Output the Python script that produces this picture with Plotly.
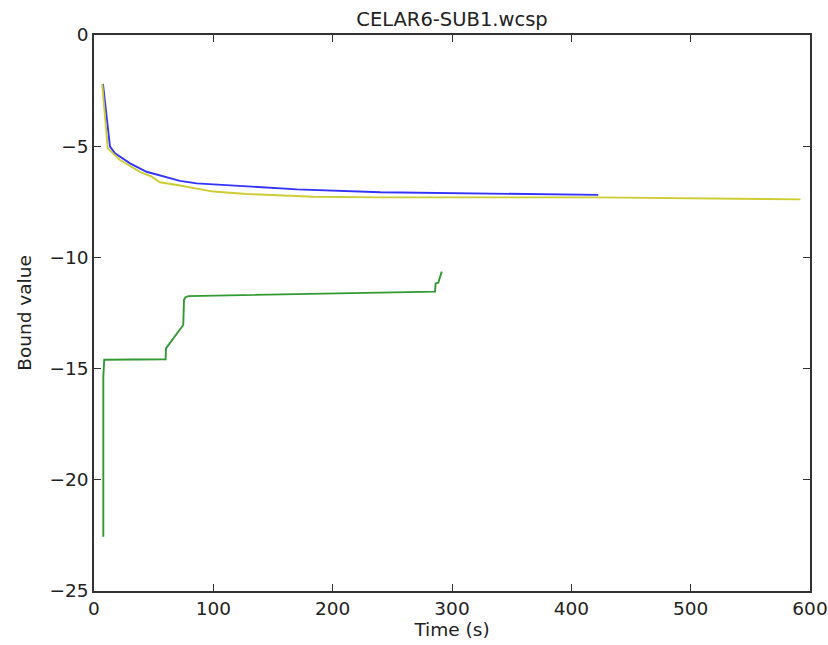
import plotly.graph_objects as go

blue_x = [7.5, 13.4, 17.6, 30.2, 44, 58, 72, 86, 114, 141.7, 170, 240, 330, 422.6]
blue_y = [-2.2, -5.02, -5.32, -5.77, -6.15, -6.37, -6.56, -6.67, -6.77, -6.86, -6.94, -7.07, -7.12, -7.19]

yellow_x = [6.9, 11.5, 21.8, 38.5, 48.3, 55.3, 72, 100, 128, 184, 240, 420, 592]
yellow_y = [-2.2, -5.1, -5.62, -6.15, -6.37, -6.62, -6.77, -7.04, -7.15, -7.27, -7.3, -7.3, -7.39]

green_x = [7.8, 7.8, 8.6, 60, 60.3, 74.8, 75.4, 76.5, 79, 285.8, 286.3, 288.5, 291.4]
green_y = [-22.56, -15.36, -14.6, -14.58, -14.09, -13.04, -11.92, -11.8, -11.74, -11.54, -11.17, -11.14, -10.64]

fig = go.Figure()
fig.add_trace(go.Scatter(x=blue_x, y=blue_y, mode="lines", line=dict(color="#3333ff", width=1.9)))
fig.add_trace(go.Scatter(x=yellow_x, y=yellow_y, mode="lines", line=dict(color="#cccc33", width=1.9)))
fig.add_trace(go.Scatter(x=green_x, y=green_y, mode="lines", line=dict(color="#339933", width=1.9)))

font_color = "#222222"
axis_common = dict(showgrid=False, zeroline=False, showline=True, linecolor="#333333", linewidth=1.5,
                   mirror="ticks", ticks="inside", ticklen=7, tickcolor="#333333", tickwidth=1,
                   automargin=False,
                   tickfont=dict(family="DejaVu Sans", size=18.5, color=font_color))

fig.update_layout(
    width=828, height=645,
    margin=dict(l=94, r=18, t=35, b=54, autoexpand=False),
    paper_bgcolor="white", plot_bgcolor="white",
    showlegend=False,
    title=dict(text="CELAR6-SUB1.wcsp", x=(94 + 810) / 2 / 828, xanchor="center", y=1 - 19 / 645, yanchor="middle",
               font=dict(family="DejaVu Sans", size=19.5, color=font_color)),
    xaxis=dict(range=[0, 600], tickvals=[0, 100, 200, 300, 400, 500, 600],
               title=dict(text="Time (s)", font=dict(family="DejaVu Sans", size=18.5, color=font_color), standoff=4),
               **axis_common),
    yaxis=dict(range=[-25, 0], tickvals=[0, -5, -10, -15, -20, -25],
               title=dict(text="Bound value", font=dict(family="DejaVu Sans", size=18.5, color=font_color), standoff=13),
               **axis_common),
)

fig.write_html("out.html")
